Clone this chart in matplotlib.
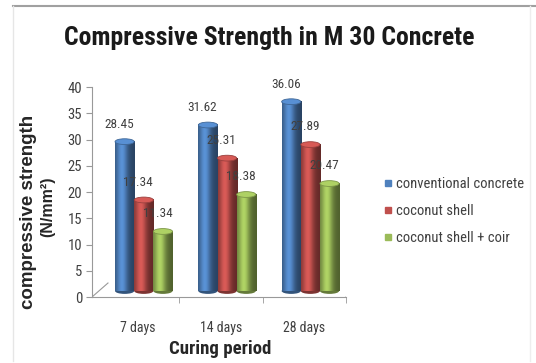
import numpy as np
import matplotlib
matplotlib.use("Agg")
import matplotlib.pyplot as plt
import matplotlib.transforms as mtransforms
from matplotlib.patches import Ellipse
from matplotlib.lines import Line2D
from matplotlib.colors import to_rgb

NARROW = ['Roboto Condensed', 'Liberation Sans', 'DejaVu Sans']
WIDE = ['Liberation Sans', 'DejaVu Sans']
plt.rcParams['font.family'] = NARROW

categories = ["7 days", "14 days", "28 days"]
series_names = ["conventional concrete", "coconut shell", "coconut shell + coir"]
conventional = [28.45, 31.62, 36.06]
coconut_shell = [17.34, 25.31, 27.89]
shell_coir = [11.34, 18.38, 20.47]
series_values = [conventional, coconut_shell, shell_coir]
colors = ["#4F81BD", "#C0504D", "#9BBB59"]
y_ticks = [0, 5, 10, 15, 20, 25, 30, 35, 40]

fig = plt.figure(figsize=(5.36, 3.63), dpi=100)
ax = fig.add_axes([0.1716, 0.1818, 0.474, 0.5785])

# depth offset of the bar row above the chart floor
depth = mtransforms.ScaledTranslation(0.06, 0.06, fig.dpi_scale_trans)
shifted = ax.transData + depth

bar_w = 0.23
x = np.arange(len(categories))
text_col = "#404040"


def shade(color, n=64):
    base = np.array(to_rgb(color))
    t = np.linspace(0, 1, n)
    # cylinder-like lighting: dark edges, highlight left of centre
    f = 0.62 + 0.55 * np.exp(-((t - 0.35) / 0.28) ** 2) - 0.1 * t
    rgb = np.clip(base[None, :] * f[:, None], 0, 1)
    return rgb[None, :, :]


for i, (vals, col) in enumerate(zip(series_values, colors)):
    for j, v in enumerate(vals):
        xc = x[j] + (i - 1) * bar_w
        x0, x1 = xc - bar_w / 2, xc + bar_w / 2
        base = np.array(to_rgb(col))
        ax.add_patch(Ellipse((xc, 0), bar_w, 1.1, transform=shifted,
                             facecolor=base * 0.65, edgecolor='none', zorder=2 + i))
        ax.imshow(shade(col), extent=[x0, x1, 0, v], aspect='auto',
                  transform=shifted, zorder=2 + i + 0.1, interpolation='bilinear')
        ax.add_patch(Ellipse((xc, v), bar_w, 1.1, transform=shifted,
                             facecolor=np.clip(base * 1.12, 0, 1),
                             edgecolor=base * 0.8, linewidth=0.6, zorder=2 + i + 0.2))
        ax.annotate(f"{v:.2f}", (xc, v), xycoords=shifted,
                    xytext=(-4, 8), textcoords='offset points',
                    ha='center', va='bottom', fontsize=9.5, color=text_col, zorder=10)

ax.set_xlim(-0.55, 2.5)
ax.set_ylim(0, 40)
ax.set_yticks(y_ticks)
ax.set_yticklabels([str(t) for t in y_ticks], fontsize=10.5, color=text_col)
ax.set_xticks(x)
ax.set_xticklabels(categories, fontsize=10, color=text_col)
ax.tick_params(axis='x', which='major', length=0, pad=17)
ax.set_xticks([0.5, 1.5, 2.5], minor=True)
ax.tick_params(axis='x', which='minor', length=4, color='#999999', direction='out')
ax.tick_params(axis='y', length=4, color='#999999', direction='out', pad=3)

for s in ['top', 'right']:
    ax.spines[s].set_visible(False)
for s in ['left', 'bottom']:
    ax.spines[s].set_color('#999999')
    ax.spines[s].set_linewidth(0.8)
ax.patch.set_alpha(0)

# floor edges running back into depth
for xe in (-0.55, 2.5):
    p0 = ax.transData.transform((xe, 0))
    ax.add_line(Line2D([p0[0], p0[0] + 16], [p0[1], p0[1] + 14], transform=None,
                       color='#999999', linewidth=0.8, zorder=1))

fig.text(269 / 536, 1 - 38 / 363, "Compressive Strength in M 30 Concrete",
         ha='center', va='center', fontsize=18.5, fontweight='bold', color='#1a1a1a')
fig.text(29 / 536, 1 - 212 / 363, "compressive strength",
         rotation=90, ha='center', va='center',
         fontsize=13.5, fontweight='bold', color='#262626', family=WIDE)
fig.text(48 / 536, 1 - 207 / 363, "(N/mm²)",
         rotation=90, ha='center', va='center',
         fontsize=11.5, fontweight='bold', color='#262626', family=WIDE)
fig.text(220 / 536, 1 - 349 / 363, "Curing period", ha='center', va='center',
         fontsize=13.5, fontweight='bold', color='#262626')

handles = [Line2D([], [], marker='s', linestyle='none', markersize=4.5,
                  markerfacecolor=c, markeredgecolor=c) for c in colors]
fig.legend(handles, series_names, loc='upper left',
           bbox_to_anchor=(378 / 536, 1 - 171 / 363), frameon=False,
           fontsize=10.5, handlelength=0.6, handletextpad=0.2, labelspacing=0.9,
           borderaxespad=0, labelcolor=text_col)

# outer frame
fig.add_artist(Line2D([13 / 536, 1], [1 - 6 / 363, 1 - 6 / 363], transform=fig.transFigure,
                      color='#a0a0a0', linewidth=1.5))
fig.add_artist(Line2D([13 / 536, 13 / 536], [1 - 6 / 363, 2 / 363], transform=fig.transFigure,
                      color='#e6e6e6', linewidth=1))
fig.add_artist(Line2D([530 / 536, 530 / 536], [1 - 6 / 363, 2 / 363], transform=fig.transFigure,
                      color='#eeeeee', linewidth=1))

fig.savefig("out.png", dpi=100)
